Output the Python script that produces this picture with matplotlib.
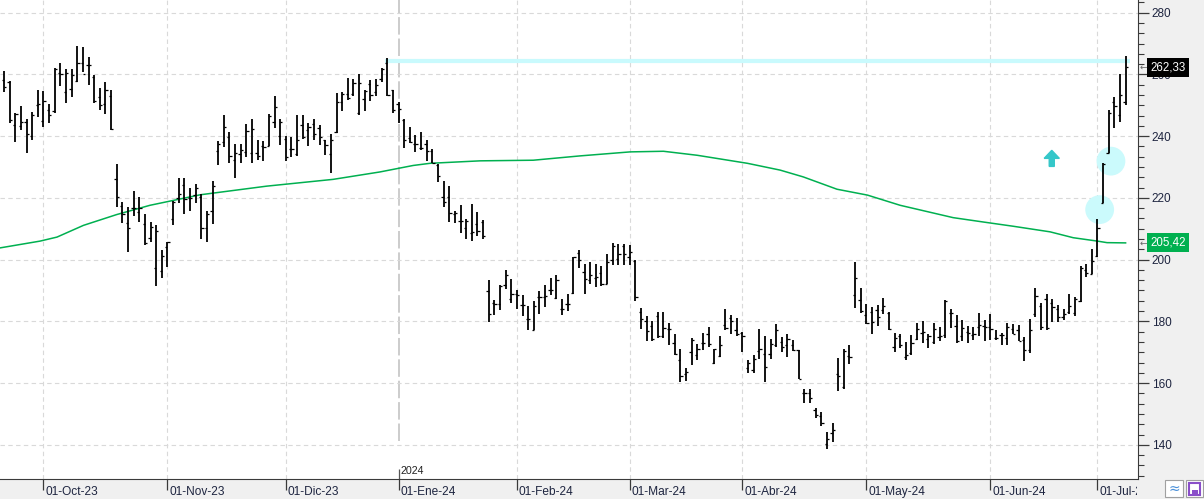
import matplotlib
matplotlib.use("Agg")
import matplotlib.pyplot as plt
import matplotlib.transforms as mtransforms
from matplotlib.ticker import MultipleLocator, AutoMinorLocator
from matplotlib.patches import Rectangle
import numpy as np
import pandas as pd

plt.rcParams['font.family'] = ['Liberation Sans', 'DejaVu Sans']

# trading days (NYSE calendar) 21-Sep-2023 .. 09-Jul-2024
holidays = pd.to_datetime(['2023-11-23', '2023-12-25', '2024-01-01', '2024-01-15',
                           '2024-02-19', '2024-03-29', '2024-05-27', '2024-06-19',
                           '2024-07-04'])
dates = pd.bdate_range('2023-09-21', '2024-07-09')
dates = dates[~dates.isin(holidays)]

opens = [258.2, 257.6, 243.5, 243.2, 244.7, 240.2, 250.1, 244.9, 248.6, 248.2,
         260.6, 254.3, 255.4, 258.0, 263.8, 262.9, 259.3, 252.6, 250.3, 253.0,
         226.0, 217.4, 212.0, 216.6, 215.3, 211.7, 207.1, 197.4, 196.3, 204.1,
         213.0, 220.1, 224.1, 219.9, 220.8, 220.3, 210.1, 215.7, 235.1, 238.1,
         239.6, 232.2, 234.2, 235.0, 234.6, 234.4, 236.8, 236.8, 244.6, 240.2,
         239.1, 235.7, 234.2, 243.5, 242.0, 243.9, 242.7, 238.7, 234.2, 241.2,
         251.1, 253.8, 253.6, 247.6, 251.9, 256.8, 254.4, 258.4, 263.8, 255.1,
         250.4, 245.2, 239.4, 237.3, 236.3, 237.6, 235.2, 230.6, 220.3, 220.3,
         214.9, 212.6, 210.1, 208.7, 211.5, 212.1, 189.7, 186.0, 185.7, 191.7,
         187.4, 189.0, 185.2, 180.9, 177.3, 187.9, 187.9, 190.3, 187.7, 184.1,
         185.5, 189.2, 202.2, 196.0, 193.3, 194.2, 195.7, 192.2, 199.8, 200.3,
         204.3, 200.7, 199.6, 183.0, 180.1, 178.4, 181.6, 175.1, 177.6, 173.1,
         167.6, 163.0, 170.1, 169.2, 173.1, 175.8, 166.5, 168.8, 178.7, 181.2,
         177.3, 176.2, 164.9, 164.1, 170.4, 169.3, 169.3, 172.2, 173.3, 172.5,
         172.2, 170.6, 156.9, 156.9, 151.3, 149.2, 140.3, 143.8, 163.0, 158.9,
         168.7, 188.4, 187.0, 182.0, 183.0, 183.8, 183.8, 182.7, 171.7, 175.1,
         168.6, 169.7, 174.4, 176.2, 174.4, 173.3, 174.9, 175.5, 182.7, 178.4,
         175.1, 176.6, 175.5, 178.2, 178.4, 178.2, 174.7, 175.5, 174.7, 177.6,
         177.1, 174.1, 170.6, 182.5, 184.9, 187.4, 186.0, 184.0, 181.4, 183.0,
         182.7, 186.6, 196.5, 195.5, 201.1, 218.4, 234.6, 251.0, 247.0, 251.1]
highs = [261.1, 258.0, 247.4, 249.7, 245.4, 247.8, 255.0, 254.5, 250.4, 262.0,
         263.6, 261.6, 261.6, 269.2, 269.0, 265.7, 259.7, 255.5, 257.5, 254.9,
         230.9, 218.7, 217.1, 222.2, 220.3, 214.7, 212.2, 211.2, 203.0, 205.8,
         219.0, 226.5, 226.5, 223.2, 224.4, 221.1, 215.7, 225.4, 238.4, 246.8,
         241.3, 237.6, 237.4, 243.9, 245.4, 238.9, 238.4, 247.1, 253.0, 245.4,
         240.2, 239.6, 246.8, 246.8, 244.1, 245.5, 243.5, 238.9, 240.7, 254.1,
         254.2, 258.7, 258.4, 260.1, 254.9, 258.2, 258.4, 262.0, 265.2, 255.1,
         251.1, 245.7, 243.0, 240.3, 241.4, 238.9, 235.8, 230.9, 225.4, 223.8,
         215.8, 217.6, 213.3, 217.9, 215.5, 212.8, 193.3, 186.8, 191.7, 196.5,
         193.8, 190.3, 188.4, 184.9, 186.5, 189.8, 191.7, 194.1, 194.9, 187.4,
         189.0, 201.0, 203.2, 198.7, 199.2, 198.7, 197.8, 201.9, 205.5, 205.2,
         205.2, 204.7, 199.8, 184.4, 181.6, 180.1, 183.0, 183.0, 179.4, 176.0,
         171.1, 165.0, 174.7, 172.8, 176.2, 178.2, 171.1, 175.4, 184.1, 182.0,
         181.2, 176.5, 167.6, 169.0, 177.4, 175.1, 174.4, 179.3, 174.9, 175.8,
         173.9, 170.8, 158.2, 158.2, 152.0, 150.6, 144.1, 147.1, 168.1, 170.9,
         172.2, 199.3, 190.9, 185.7, 184.7, 185.2, 187.7, 183.0, 176.2, 175.8,
         173.3, 175.5, 179.5, 180.1, 175.8, 179.5, 178.2, 187.0, 184.1, 182.0,
         180.3, 178.4, 178.2, 182.7, 180.3, 182.5, 177.3, 176.2, 179.5, 179.2,
         178.7, 174.9, 180.7, 190.9, 185.9, 188.8, 187.4, 185.2, 184.1, 188.8,
         187.9, 197.8, 198.7, 203.3, 213.3, 231.4, 248.4, 252.8, 260.1, 266.0]
lows = [254.2, 244.3, 238.2, 242.0, 234.6, 238.7, 246.3, 242.8, 244.3, 247.6,
        256.2, 250.6, 252.6, 257.5, 260.8, 256.6, 250.6, 248.4, 247.1, 242.0,
        217.1, 211.9, 202.5, 214.2, 212.2, 204.6, 205.7, 191.4, 194.1, 197.6,
        211.2, 218.4, 214.8, 215.8, 218.4, 206.6, 205.7, 211.7, 230.6, 236.6,
        231.2, 226.6, 231.4, 233.3, 231.4, 232.2, 232.0, 236.8, 242.6, 237.0,
        232.0, 233.3, 233.7, 239.2, 236.8, 238.9, 237.1, 233.8, 228.1, 240.9,
        248.2, 251.7, 253.1, 246.8, 248.2, 251.5, 253.0, 257.6, 253.0, 247.6,
        244.3, 236.2, 237.8, 234.9, 235.5, 232.0, 231.4, 225.2, 217.1, 212.2,
        211.9, 208.7, 206.8, 206.1, 207.6, 206.7, 179.8, 182.2, 183.8, 190.6,
        186.0, 184.1, 181.6, 177.1, 177.1, 182.5, 184.7, 188.7, 187.4, 182.0,
        183.4, 189.0, 197.4, 188.8, 192.0, 191.1, 191.6, 192.0, 198.4, 198.4,
        198.4, 198.4, 186.6, 177.4, 173.6, 173.6, 174.7, 174.7, 172.2, 169.2,
        160.3, 160.6, 165.8, 167.4, 170.6, 171.8, 166.3, 168.4, 177.3, 175.8,
        175.3, 170.0, 163.3, 163.3, 167.9, 160.3, 167.9, 171.7, 170.0, 168.4,
        170.4, 161.4, 153.5, 153.5, 148.8, 146.1, 138.5, 140.9, 157.4, 158.2,
        166.3, 184.4, 182.7, 179.0, 176.0, 178.4, 182.5, 177.3, 170.1, 171.5,
        167.6, 169.0, 174.1, 173.0, 171.5, 172.8, 173.8, 174.7, 177.9, 173.0,
        173.8, 173.0, 174.1, 175.1, 173.8, 174.1, 174.1, 172.2, 172.5, 175.8,
        173.6, 167.1, 169.7, 181.4, 177.1, 177.1, 179.8, 179.8, 180.3, 182.5,
        181.6, 186.3, 194.4, 195.2, 200.9, 218.2, 234.4, 242.5, 244.7, 250.1]
closes = [255.8, 245.1, 247.2, 244.6, 240.7, 246.7, 250.3, 251.3, 246.7, 261.6,
          260.1, 260.6, 259.7, 263.6, 260.1, 262.9, 251.4, 250.1, 254.9, 242.4,
          220.4, 214.7, 210.1, 216.6, 216.6, 205.5, 210.6, 209.3, 201.1, 205.7,
          218.6, 221.2, 219.7, 220.0, 223.2, 210.1, 214.9, 223.8, 237.6, 242.8,
          233.5, 234.4, 235.5, 241.8, 242.2, 233.7, 236.6, 246.5, 249.5, 244.6,
          233.1, 235.7, 238.9, 239.6, 242.8, 240.7, 239.6, 237.1, 238.9, 251.1,
          253.8, 252.2, 257.3, 257.1, 254.7, 253.3, 256.7, 261.6, 253.3, 248.4,
          248.7, 238.9, 238.2, 237.4, 236.3, 235.2, 231.4, 227.1, 218.7, 215.1,
          215.1, 212.6, 212.6, 208.9, 209.3, 207.8, 182.5, 185.7, 191.4, 194.9,
          188.9, 188.4, 185.2, 180.9, 184.9, 187.9, 188.1, 190.3, 193.3, 184.1,
          185.5, 200.8, 200.0, 193.8, 194.9, 194.4, 192.0, 199.2, 204.3, 201.9,
          201.9, 202.5, 187.9, 180.9, 176.8, 174.4, 175.1, 177.9, 177.6, 169.5,
          162.3, 163.6, 173.9, 171.1, 173.0, 172.8, 170.9, 172.5, 178.0, 180.1,
          175.8, 175.1, 166.5, 167.9, 171.1, 165.2, 172.8, 177.1, 171.7, 174.4,
          170.8, 161.4, 156.9, 155.3, 149.8, 147.0, 141.9, 144.7, 162.2, 170.4,
          168.4, 194.2, 183.4, 179.5, 179.8, 181.4, 184.9, 177.6, 174.7, 172.2,
          169.0, 173.0, 177.6, 176.6, 175.1, 177.6, 175.1, 186.6, 182.7, 173.8,
          178.0, 176.2, 175.8, 178.7, 178.2, 177.6, 174.7, 175.5, 178.2, 176.0,
          173.8, 170.8, 177.3, 188.1, 178.2, 178.0, 184.7, 181.4, 182.5, 184.9,
          187.4, 197.4, 195.7, 199.6, 210.1, 231.1, 247.5, 249.8, 253.3, 262.33]

# 200-session moving average, read at a few bar positions
ma_idx = [-0.7, 6.4, 9.4, 14.1, 20.0, 25.9, 34.8, 46.6, 58.4, 66.7, 72.6, 75.6,
          84.5, 93.9, 102.2, 111.1, 117.0, 123.0, 131.9, 137.7, 141.8, 147.8,
          153.2, 159.0, 168.4, 173.7, 179.1, 185.6, 189.7, 194.0, 195.7, 199.0]
ma_val = [203.8, 206.0, 207.3, 211.1, 214.6, 217.6, 221.0, 223.8, 226.0, 228.4,
          230.5, 231.2, 232.0, 232.2, 233.6, 234.9, 235.1, 233.8, 231.2, 229.0,
          226.8, 222.8, 220.9, 217.6, 213.6, 212.2, 210.8, 209.0, 207.1, 206.0,
          205.5, 205.42]

resistance = 264.2
circle_idx = [194.4, 196.4]
circle_val = [216.2, 231.9]
arrow_idx, arrow_low, arrow_high = 185.9, 230.2, 235.4

meses = {1: 'Ene', 2: 'Feb', 3: 'Mar', 4: 'Abr', 5: 'May', 6: 'Jun',
         7: 'Jul', 8: 'Ago', 9: 'Sep', 10: 'Oct', 11: 'Nov', 12: 'Dic'}

x = np.arange(len(dates))
W, H = 1204, 499
fig = plt.figure(figsize=(W / 100, H / 100), dpi=100, facecolor='#f0f0f0')
ax = fig.add_axes([0, 20.5 / H, 1138 / W, 478.5 / H])
ax.set_facecolor('white')
ax.set_xlim(-0.71, 201.2)
ax.set_ylim(129.1, 284.1)

grid_c = '#d9d9d9'
dash = (0, (4, 3))

# month ticks
month_pos = [i for i in range(1, len(dates)) if dates[i].month != dates[i - 1].month]
month_lab = ['01-%s-%s' % (meses[dates[i].month], dates[i].strftime('%y')) for i in month_pos]
jan_pos = [i for i in month_pos if dates[i].month == 1][0]

for p in month_pos:
    if p == jan_pos:
        ax.vlines(p, 141.4, 284.1, color='#cccccc', lw=1.4, linestyles=[(0, (9, 2))], zorder=1)
        ax.vlines(p, 129.1, 132.2, color='#555555', lw=0.9, zorder=1)
    else:
        ax.axvline(p, color=grid_c, lw=0.8, ls=dash, zorder=1)
for v in range(140, 281, 20):
    ax.axhline(v, color=grid_c, lw=0.8, ls=dash, zorder=1)

ax.text(jan_pos + 0.4, 131.5, str(dates[jan_pos].year), fontsize=7.7, color='#222222',
        va='center', ha='left')

# resistance, circles, arrow
ax.hlines(resistance, 67.6, 199.8, color='#c9fafd', lw=3, zorder=2)
ax.scatter(circle_idx, circle_val, s=430, color='#cbfafc', edgecolors='none', zorder=2)
ax.arrow(arrow_idx, arrow_low, 0, arrow_high - arrow_low, width=0.9, head_width=2.7,
         head_length=2.6, length_includes_head=True, color='#35c7c9', zorder=2)

# moving average
ax.plot(ma_idx, ma_val, color='#00b050', lw=1.1, zorder=3)

# OHLC bars
ax.vlines(x, lows, highs, color='black', lw=1.3, zorder=4)
ax.hlines(opens, x - 0.4, x, color='black', lw=0.9, zorder=4)
ax.hlines(closes, x, x + 0.4, color='black', lw=0.9, zorder=4)

# axes styling
for s in ['top', 'left']:
    ax.spines[s].set_visible(False)
ax.spines['right'].set_color('#3a3a3a')
ax.spines['bottom'].set_color('#3a3a3a')
ax.yaxis.tick_right()
ax.yaxis.set_major_locator(MultipleLocator(20))
ax.yaxis.set_minor_locator(AutoMinorLocator(6))
ax.tick_params(axis='y', which='major', length=8, width=0.9, color='#3a3a3a', pad=2,
               labelsize=8.5, labelcolor='#1e2540')
ax.tick_params(axis='y', which='minor', length=4, width=0.8, color='#3a3a3a')
for lbl in ax.get_yticklabels():
    lbl.set_fontfamily(['Liberation Sans Narrow', 'Liberation Sans'])

ax.set_xticks(month_pos)
ax.set_xticklabels(month_lab, ha='left')
ax.tick_params(axis='x', length=8, width=0.9, color='#3a3a3a', pad=0, labelsize=8.6,
               labelcolor='#1e2540')
offset = mtransforms.ScaledTranslation(2 / 100, 3.2 / 100, fig.dpi_scale_trans)
clip = mtransforms.TransformedBbox(mtransforms.Bbox.from_extents(0, 0, 1137 / W, 1),
                                   fig.transFigure)
for lbl in ax.get_xticklabels():
    lbl.set_transform(lbl.get_transform() + offset)
    lbl.set_clip_on(True)
    lbl.set_clip_box(clip)

# last value labels
tr = mtransforms.blended_transform_factory(ax.transAxes, ax.transData)
ax.text(1.0108, closes[-1], ('%.2f' % closes[-1]).replace('.', ','), transform=tr,
        fontsize=8.3, color='white', va='center', ha='left', clip_on=False,
        bbox=dict(boxstyle='square,pad=0.3', fc='black', ec='none'))
ax.text(1.0108, ma_val[-1], ('%.2f' % ma_val[-1]).replace('.', ','), transform=tr,
        fontsize=8.3, color='white', va='center', ha='left', clip_on=False,
        bbox=dict(boxstyle='square,pad=0.3', fc='#00b050', ec='none'))
for v in [closes[-1], ma_val[-1]]:
    ax.text(1.0015, v, '\u2190', transform=tr, fontsize=6.5, color='#666666',
            va='center', ha='left', family='DejaVu Sans', clip_on=False)

# small toolbar icons at bottom right
fig.add_artist(Rectangle((1165 / W, 2 / H), 18 / W, 17 / H, transform=fig.transFigure,
                         fc='white', ec='#a0a0a0', lw=0.8))
fig.text(1174 / W, 10.5 / H, '\u2248', fontsize=10, color='#4a90d9', ha='center',
         va='center', family='DejaVu Sans')
fig.add_artist(Rectangle((1186 / W, 2 / H), 17 / W, 17 / H, transform=fig.transFigure,
                         fc='white', ec='#a0a0a0', lw=0.8))
fig.add_artist(Rectangle((1189 / W, 4.5 / H), 11 / W, 12 / H, transform=fig.transFigure,
                         fc='white', ec='#8a4fc9', lw=1.5))
fig.add_artist(Rectangle((1191.5 / W, 5 / H), 6 / W, 4 / H, transform=fig.transFigure,
                         fc='#8a4fc9', ec='none'))

fig.savefig('out.png', dpi=100, facecolor=fig.get_facecolor())
